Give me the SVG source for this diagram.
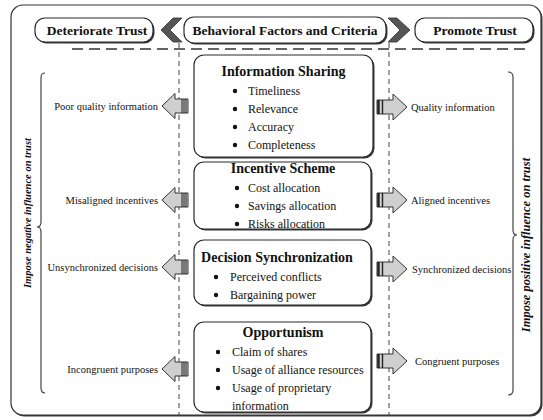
<svg xmlns="http://www.w3.org/2000/svg" xmlns:xlink="http://www.w3.org/1999/xlink" width="543" height="420" viewBox="0 0 543 420">
<style>
  .frame{fill:#fff;stroke:#333;stroke-width:1.2}
  .shadow{fill:#3a3a3a}
  .box{fill:#fff;stroke:#2a2a2a;stroke-width:1.2}
  .hdr{font-family:"Liberation Serif","Times New Roman",serif;font-weight:bold;font-size:13.5px;fill:#111}
  .ttl{font-family:"Liberation Serif","Times New Roman",serif;font-weight:bold;font-size:14px;fill:#111;text-anchor:middle}
  .itm{font-family:"Liberation Serif","Times New Roman",serif;font-size:12px;fill:#111}
  .lbl{font-family:"Liberation Serif","Times New Roman",serif;font-size:10.5px;fill:#111}
  .rot{font-family:"Liberation Serif","Times New Roman",serif;font-weight:bold;font-style:italic;fill:#111;text-anchor:middle}
  .dash{fill:none;stroke:#333;stroke-width:1.3;stroke-dasharray:11 6}
  .vdash{fill:none;stroke:#444;stroke-width:1;stroke-dasharray:5 4}
  .chev{fill:#555;stroke:#333;stroke-width:0.8}
  .arr{fill:#cfcfcf;stroke:#333;stroke-width:1}
  .stripe{stroke:#222;stroke-width:1}
  .brace{fill:none;stroke:#444;stroke-width:1.2}
  .dot{fill:#111}
</style>
<defs>
  <g id="larrow">
    <path class="arr" d="M162,0 L175,-12.5 L175,-7 L188,-7 L188,7 L175,7 L175,12.5 Z"/>
    <line class="stripe" x1="182" y1="-7" x2="182" y2="7"/>
    <line class="stripe" x1="184" y1="-7" x2="184" y2="7"/>
    <line class="stripe" x1="186" y1="-7" x2="186" y2="7"/>
  </g>
  <g id="rarrow">
    <path class="arr" d="M377,-7 L393,-7 L393,-13 L407,0 L393,13 L393,7 L377,7 Z"/>
    <line stroke="#222" stroke-width="2.4" x1="378.5" y1="-7" x2="378.5" y2="7"/>
    <line stroke="#222" stroke-width="1.4" x1="382.5" y1="-7" x2="382.5" y2="7"/>
  </g>
</defs>

<g id="frame">
  <rect class="shadow" x="12.5" y="6.5" width="530" height="410" rx="12"/>
  <rect class="frame" x="11" y="5" width="530" height="410" rx="12"/>
</g>

<g id="separators">
  <line class="dash" x1="72" y1="49" x2="526" y2="49"/>
  <line class="vdash" x1="179" y1="43" x2="179" y2="416"/>
  <line class="vdash" x1="389" y1="43" x2="389" y2="416"/>
</g>

<g id="deteriorate">
  <rect class="shadow" x="36.5" y="19.5" width="118" height="24" rx="10"/>
  <rect class="box" x="35" y="18" width="118" height="24" rx="10"/>
  <text class="hdr" x="97" y="35" text-anchor="middle">Deteriorate Trust</text>
</g>
<g id="chevron-left">
  <polygon class="chev" points="161,30 173,18 182,18 170,30 182,42 173,42"/>
</g>
<g id="behavioral">
  <rect class="shadow" x="185.5" y="18.5" width="202" height="26" rx="10"/>
  <rect class="box" x="184" y="17" width="202" height="26" rx="10"/>
  <text class="hdr" x="285" y="35" text-anchor="middle">Behavioral Factors and  Criteria</text>
</g>
<g id="chevron-right">
  <polygon class="chev" points="388,18 397,18 410,30 397,42 388,42 400,30"/>
</g>
<g id="promote">
  <rect class="shadow" x="416.5" y="19.5" width="118" height="24" rx="10"/>
  <rect class="box" x="415" y="18" width="118" height="24" rx="10"/>
  <text class="hdr" x="475" y="35" text-anchor="middle" font-size="14">Promote Trust</text>
</g>

<g id="information-sharing">
  <rect class="shadow" x="195.5" y="56.5" width="179" height="102" rx="10"/>
  <rect class="box" x="194" y="55" width="179" height="102" rx="10"/>
  <text class="ttl" x="283.5" y="76">Information Sharing</text>
  <circle class="dot" cx="235" cy="91" r="2.2"/><text class="itm" x="248" y="95">Timeliness</text>
  <circle class="dot" cx="235" cy="109" r="2.2"/><text class="itm" x="248" y="113">Relevance</text>
  <circle class="dot" cx="235" cy="127" r="2.2"/><text class="itm" x="248" y="131">Accuracy</text>
  <circle class="dot" cx="235" cy="145" r="2.2"/><text class="itm" x="248" y="149">Completeness</text>
</g>

<g id="incentive-scheme">
  <rect class="shadow" x="195.5" y="163.5" width="177" height="67" rx="10"/>
  <rect class="box" x="194" y="162" width="177" height="67" rx="10"/>
  <text class="ttl" x="283" y="173">Incentive Scheme</text>
  <circle class="dot" cx="237" cy="188" r="2.2"/><text class="itm" x="248" y="192">Cost allocation</text>
  <circle class="dot" cx="237" cy="206" r="2.2"/><text class="itm" x="248" y="210">Savings allocation</text>
  <circle class="dot" cx="237" cy="224" r="2.2"/><text class="itm" x="248" y="228">Risks allocation</text>
</g>

<g id="decision-synchronization">
  <rect class="shadow" x="195.5" y="241.5" width="177" height="65" rx="10"/>
  <rect class="box" x="194" y="240" width="177" height="65" rx="10"/>
  <text class="ttl" x="277" y="262">Decision Synchronization</text>
  <circle class="dot" cx="216" cy="277" r="2.2"/><text class="itm" x="230" y="281">Perceived conflicts</text>
  <circle class="dot" cx="216" cy="295" r="2.2"/><text class="itm" x="230" y="299">Bargaining power</text>
</g>

<g id="opportunism">
  <rect class="shadow" x="195.5" y="323.5" width="177" height="90" rx="10"/>
  <rect class="box" x="194" y="322" width="177" height="90" rx="10"/>
  <text class="ttl" x="283" y="337">Opportunism</text>
  <circle class="dot" cx="218" cy="352" r="2.2"/><text class="itm" x="232" y="356">Claim of shares</text>
  <circle class="dot" cx="218" cy="370" r="2.2"/><text class="itm" x="232" y="374">Usage of alliance resources</text>
  <circle class="dot" cx="218" cy="388" r="2.2"/><text class="itm" x="232" y="392">Usage of proprietary</text>
  <text class="itm" x="232" y="410">information</text>
</g>

<g id="connectors">
  <use xlink:href="#larrow" href="#larrow" transform="translate(0,106)"/>
  <use xlink:href="#larrow" href="#larrow" transform="translate(0,200)"/>
  <use xlink:href="#larrow" href="#larrow" transform="translate(0,267)"/>
  <use xlink:href="#larrow" href="#larrow" transform="translate(0,369)"/>
  <use xlink:href="#rarrow" href="#rarrow" transform="translate(0,107)"/>
  <use xlink:href="#rarrow" href="#rarrow" transform="translate(0,200)"/>
  <use xlink:href="#rarrow" href="#rarrow" transform="translate(0,269)"/>
  <use xlink:href="#rarrow" href="#rarrow" transform="translate(0,361)"/>
</g>

<g id="negative-labels">
  <text class="lbl" x="158" y="110" text-anchor="end">Poor quality information</text>
  <text class="lbl" x="158" y="204" text-anchor="end">Misaligned incentives</text>
  <text class="lbl" x="158" y="271" text-anchor="end">Unsynchronized decisions</text>
  <text class="lbl" x="158" y="373" text-anchor="end">Incongruent purposes</text>
</g>
<g id="positive-labels">
  <text class="lbl" x="411" y="111">Quality information</text>
  <text class="lbl" x="411" y="204">Aligned incentives</text>
  <text class="lbl" x="412" y="273">Synchronized decisions</text>
  <text class="lbl" x="415" y="365">Congruent purposes</text>
</g>

<g id="negative-brace">
  <path class="brace" d="M45,73 Q41,73 41,78 L41,222 Q41,227 37,227 Q41,227 41,232 L41,388 Q41,393 45,393"/>
  <text class="rot" font-size="10.5" transform="translate(31,213) rotate(-90)">Impose negative influence on trust</text>
</g>
<g id="positive-brace">
  <path class="brace" d="M508,72 Q513,72 513,77 L513,230 Q513,235 517,235 Q513,235 513,240 L513,390 Q513,395 508,395"/>
  <text class="rot" font-size="12.5" transform="translate(530,245) rotate(-90)">Impose positive influence on trust</text>
</g>
</svg>
